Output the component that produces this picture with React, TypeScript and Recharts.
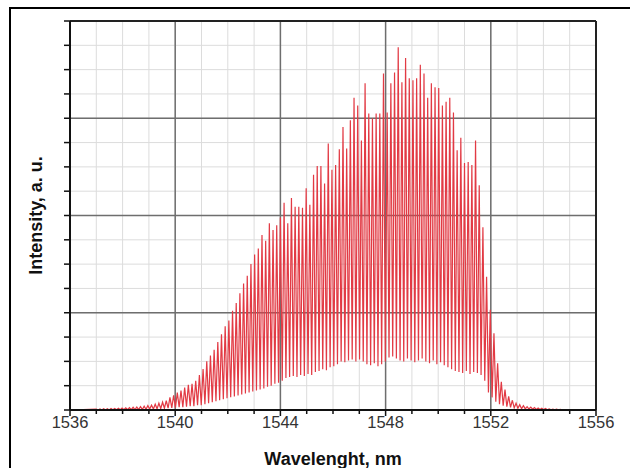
import React from 'react';
import { LineChart, Line, XAxis, YAxis, CartesianGrid, ReferenceLine } from 'recharts';

// ---- data ----
const xDomain: [number, number] = [1536, 1556];
const yDomain: [number, number] = [0, 4];
const xTickValues = [1536, 1537, 1538, 1539, 1540, 1541, 1542, 1543, 1544, 1545, 1546, 1547, 1548, 1549, 1550, 1551, 1552, 1553, 1554, 1555, 1556];
const xLabelValues = [1536, 1540, 1544, 1548, 1552, 1556];
const yTickValues = [0, 0.25, 0.5, 0.75, 1, 1.25, 1.5, 1.75, 2, 2.25, 2.5, 2.75, 3, 3.25, 3.5, 3.75, 4];
const yMajorValues = [1, 2, 3];
const xMajorValues = [1540, 1544, 1548, 1552];

const peakWavelengths = [
  1537.00, 1537.14, 1537.28, 1537.42, 1537.56, 1537.70, 1537.84, 1537.98, 1538.12, 1538.26,
  1538.40, 1538.54, 1538.68, 1538.82, 1538.96, 1539.10, 1539.24, 1539.38, 1539.52, 1539.66,
  1539.80, 1539.94, 1540.08, 1540.22, 1540.36, 1540.50, 1540.64, 1540.78, 1540.92, 1541.06,
  1541.20, 1541.34, 1541.48, 1541.62, 1541.76, 1541.90, 1542.04, 1542.18, 1542.32, 1542.46,
  1542.60, 1542.74, 1542.88, 1543.02, 1543.16, 1543.30, 1543.44, 1543.58, 1543.72, 1543.86,
  1544.00, 1544.14, 1544.28, 1544.42, 1544.56, 1544.70, 1544.84, 1544.98, 1545.12, 1545.26,
  1545.40, 1545.54, 1545.68, 1545.82, 1545.96, 1546.10, 1546.24, 1546.38, 1546.52, 1546.66,
  1546.80, 1546.94, 1547.08, 1547.22, 1547.36, 1547.50, 1547.64, 1547.78, 1547.92, 1548.06,
  1548.20, 1548.34, 1548.48, 1548.62, 1548.76, 1548.90, 1549.04, 1549.18, 1549.32, 1549.46,
  1549.60, 1549.74, 1549.88, 1550.02, 1550.16, 1550.30, 1550.44, 1550.58, 1550.72, 1550.86,
  1551.00, 1551.14, 1551.28, 1551.42, 1551.56, 1551.70, 1551.84, 1551.98, 1552.12, 1552.26,
  1552.40, 1552.54, 1552.68, 1552.82, 1552.96, 1553.10, 1553.24, 1553.38, 1553.52, 1553.66,
  1553.80, 1553.94, 1554.08, 1554.22, 1554.36, 1554.50, 1554.64, 1554.78,
];

const peakIntensity = [
  0.01, 0.01, 0.012, 0.012, 0.015, 0.015, 0.018, 0.02, 0.022, 0.025,
  0.028, 0.03, 0.035, 0.04, 0.045, 0.05, 0.06, 0.07, 0.08, 0.095,
  0.13, 0.15, 0.18, 0.2, 0.23, 0.26, 0.27, 0.3, 0.36, 0.42,
  0.5, 0.56, 0.62, 0.7, 0.78, 0.86, 0.92, 1.02, 1.1, 1.2,
  1.3, 1.38, 1.5, 1.6, 1.66, 1.8, 1.74, 1.92, 1.85, 1.9,
  1.98, 2.13, 1.92, 2.18, 2.09, 2.09, 2.08, 2.28, 2.11, 2.42,
  2.51, 2.51, 2.33, 2.74, 2.47, 2.52, 2.68, 2.91, 2.69, 2.98,
  3.21, 3.13, 2.77, 3.36, 3.05, 3.0, 3.05, 3.05, 3.46, 3.06,
  3.36, 3.47, 3.73, 3.37, 3.62, 3.41, 3.39, 3.41, 3.55, 3.46,
  3.21, 3.36, 3.32, 3.31, 3.13, 3.17, 3.21, 3.06, 2.67, 2.8,
  2.54, 2.55, 2.52, 2.77, 2.31, 1.88, 1.37, 1.03, 0.79, 0.48,
  0.29, 0.21, 0.14, 0.10, 0.07, 0.055, 0.045, 0.035, 0.03, 0.025,
  0.02, 0.018, 0.015, 0.012, 0.01, 0.008, 0.006, 0.005,
];

const troughIntensity = [
  0, 0, 0, 0, 0.002, 0.002, 0.002, 0.003, 0.003, 0.004,
  0.005, 0.005, 0.006, 0.008, 0.01, 0.01, 0.012, 0.015, 0.018, 0.02,
  0.022, 0.025, 0.03, 0.03, 0.035, 0.04, 0.04, 0.05, 0.05, 0.06,
  0.07, 0.08, 0.09, 0.10, 0.11, 0.12, 0.13, 0.14, 0.15, 0.16,
  0.17, 0.18, 0.19, 0.2, 0.21, 0.22, 0.24, 0.25, 0.27, 0.28,
  0.3, 0.33, 0.34, 0.35, 0.34, 0.36, 0.35, 0.37, 0.36, 0.39,
  0.4, 0.42, 0.41, 0.44, 0.45, 0.47, 0.5, 0.49, 0.51, 0.52,
  0.5, 0.52, 0.5, 0.47, 0.46, 0.48, 0.45, 0.47, 0.5, 0.54,
  0.55, 0.53, 0.51, 0.5, 0.53, 0.51, 0.49, 0.51, 0.53, 0.5,
  0.48, 0.51, 0.47, 0.49, 0.46, 0.44, 0.42, 0.4, 0.39, 0.38,
  0.4, 0.37, 0.39, 0.38, 0.36, 0.3, 0.18, 0.13, 0.085, 0.06,
  0.045, 0.035, 0.028, 0.022, 0.018, 0.014, 0.012, 0.01, 0.008, 0.006,
  0.005, 0.004, 0.003, 0.003, 0.002, 0.002, 0.001,
];

const xTitle = 'Wavelenght, nm';
const yTitle = 'Intensity, a. u.';

// ---- table for the library ----
type Pt = { wl: number; v: number };
const data: Pt[] = [{ wl: xDomain[0], v: 0 }];
peakWavelengths.forEach((wl, i) => {
  data.push({ wl, v: peakIntensity[i] });
  if (i < troughIntensity.length && i + 1 < peakWavelengths.length) {
    data.push({ wl: (wl + peakWavelengths[i + 1]) / 2, v: troughIntensity[i] });
  }
});
data.push({ wl: xDomain[1], v: 0 });

const FONT = '"Liberation Sans", Arial, Helvetica, sans-serif';

const XTick = (props: any) => {
  const { x, y, payload } = props;
  const major = xLabelValues.includes(payload.value);
  return (
    <g>
      <line x1={x} x2={x} y1={y} y2={y + (major ? 6 : 4)} stroke="#111" strokeWidth={1.5} />
      {major && (
        <text x={x} y={y + 18} textAnchor="middle" fontSize={16.5} fill="#333" fontFamily={FONT}>
          {payload.value}
        </text>
      )}
    </g>
  );
};

const YTick = (props: any) => {
  const { x, y } = props;
  return <line x1={x - 6} x2={x} y1={y} y2={y} stroke="#111" strokeWidth={1.5} />;
};

const hGen = (vals: number[]) => (p: any) => {
  const { yAxis, offset } = p;
  if (yAxis && typeof yAxis.scale === 'function') return vals.map((v) => yAxis.scale(v));
  return vals.map((v) => offset.top + offset.height * (1 - (v - yDomain[0]) / (yDomain[1] - yDomain[0])));
};
const vGen = (vals: number[]) => (p: any) => {
  const { xAxis, offset } = p;
  if (xAxis && typeof xAxis.scale === 'function') return vals.map((v) => xAxis.scale(v));
  return vals.map((v) => offset.left + offset.width * ((v - xDomain[0]) / (xDomain[1] - xDomain[0])));
};

export default function App() {
  return (
    <div style={{ position: 'absolute', left: 0, top: 0, width: 630, height: 468, background: '#fff', fontFamily: FONT }}>
      <div
        style={{
          position: 'absolute',
          left: 9,
          top: 7,
          width: 640,
          height: 480,
          borderTop: '2px solid #000',
          borderLeft: '2px solid #000',
        }}
      />
      <div style={{ position: 'absolute', left: 0, top: 0 }}>
        <LineChart width={630} height={468} data={data} margin={{ top: 21, right: 34, left: 0, bottom: 0 }}>
          <CartesianGrid
            stroke="#dcdcdc"
            strokeWidth={1}
            horizontalCoordinatesGenerator={hGen(yTickValues)}
            verticalCoordinatesGenerator={vGen(xTickValues)}
          />
          <CartesianGrid
            stroke="#6e6e6e"
            strokeWidth={1.5}
            horizontalCoordinatesGenerator={hGen(yMajorValues)}
            verticalCoordinatesGenerator={vGen(xMajorValues)}
          />
          <XAxis
            dataKey="wl"
            type="number"
            domain={xDomain}
            ticks={xTickValues}
            interval={0}
            height={58}
            tickLine={false}
            tickSize={0}
            tickMargin={0}
            tick={<XTick />}
            axisLine={{ stroke: '#111', strokeWidth: 2 }}
            allowDataOverflow
            label={{ value: xTitle, position: 'insideBottom', offset: 3, fontSize: 18, fontWeight: 'bold', fill: '#111', fontFamily: FONT }}
          />
          <YAxis
            type="number"
            domain={yDomain}
            ticks={yTickValues}
            interval={0}
            width={70}
            tickLine={false}
            tickSize={0}
            tickMargin={0}
            tick={<YTick />}
            axisLine={{ stroke: '#111', strokeWidth: 2 }}
            allowDataOverflow
            label={{ value: yTitle, angle: -90, position: 'insideLeft', offset: 36, fontSize: 18, fontWeight: 'bold', fill: '#111', fontFamily: FONT, style: { textAnchor: 'middle' } }}
          />
          <ReferenceLine y={yDomain[1]} stroke="#222" strokeWidth={2} />
          <ReferenceLine x={xDomain[1]} stroke="#222" strokeWidth={2} />
          <Line
            type="linear"
            dataKey="v"
            stroke="#e23a44"
            strokeWidth={1.2}
            dot={false}
            activeDot={false}
            isAnimationActive={false}
          />
        </LineChart>
      </div>
    </div>
  );
}
